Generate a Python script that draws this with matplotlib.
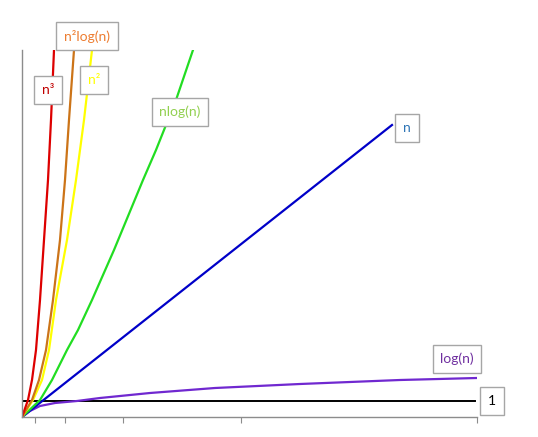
import matplotlib.pyplot as plt

n3_x = [0, 6, 10, 14, 18, 22, 26, 29, 32]
n3_y = [0, 17, 37, 67, 117, 177, 237, 297, 367]

n2log_x = [0, 10, 17, 24, 31, 38, 43, 47, 52]
n2log_y = [0, 17, 37, 67, 117, 177, 237, 297, 367]

n2_x = [0, 11, 20, 27, 34, 45, 54, 62, 70]
n2_y = [0, 17, 37, 67, 117, 177, 237, 297, 367]

nlog_x = [0, 18, 30, 45, 56, 70, 92, 121, 134, 154, 171]
nlog_y = [0, 17, 37, 67, 87, 117, 167, 237, 267, 317, 367]

n_x = [0, 370]
n_y = [0, 292]

log_x = [0, 8, 18, 33, 55, 78, 128, 193, 278, 378, 455]
log_y = [0, 6, 11, 14, 16, 19, 24, 29, 33, 37, 39]

const_x = [0, 453]
const_y = [16.5, 16.5]

xticks = [13, 43, 101, 219, 455]

fig = plt.figure(figsize=(5.38, 4.37), dpi=100)
ax = fig.add_axes([22 / 538, 20 / 437, 455 / 538, 367 / 437])

ax.plot(const_x, const_y, color='black', lw=1.4)
ax.plot(log_x, log_y, color='#7028d0', lw=1.6)
ax.plot(n_x, n_y, color='#0000c8', lw=1.6)
ax.plot(nlog_x, nlog_y, color='#22dd22', lw=1.6)
ax.plot(n2_x, n2_y, color='#ffff00', lw=1.6)
ax.plot(n2log_x, n2log_y, color='#cc7418', lw=1.6)
ax.plot(n3_x, n3_y, color='#dd0000', lw=1.6)

ax.set_xlim(0, 455)
ax.set_ylim(0, 367)

for side in ['top', 'right']:
    ax.spines[side].set_visible(False)
for side in ['left', 'bottom']:
    ax.spines[side].set_color('#8c8c8c')
    ax.spines[side].set_linewidth(1.0)

ax.set_xticks(xticks)
ax.set_xticklabels([])
ax.set_yticks([])
ax.tick_params(axis='x', direction='out', length=4, color='#8c8c8c')

# label boxes
box = dict(boxstyle='square,pad=0.55', fc='white', ec='#a6a6a6', lw=1)
labels = [
    ('n²log(n)', 65, 381, '#ed7d31'),
    ('n³', 26, 327, '#c00000'),
    ('n²', 72, 337, '#ffff00'),
    ('nlog(n)', 158, 305, '#92d050'),
    ('n', 385, 289, '#2e75b6'),
    ('log(n)', 435, 58, '#7030a0'),
    ('1', 470, 16, 'black'),
]
for txt, x, y, c in labels:
    ax.text(x, y, txt, color=c, fontsize=10, family=['Lato', 'DejaVu Sans'],
            ha='center', va='center', bbox=box, clip_on=False, zorder=5)

fig.savefig('out.png', dpi=100)
